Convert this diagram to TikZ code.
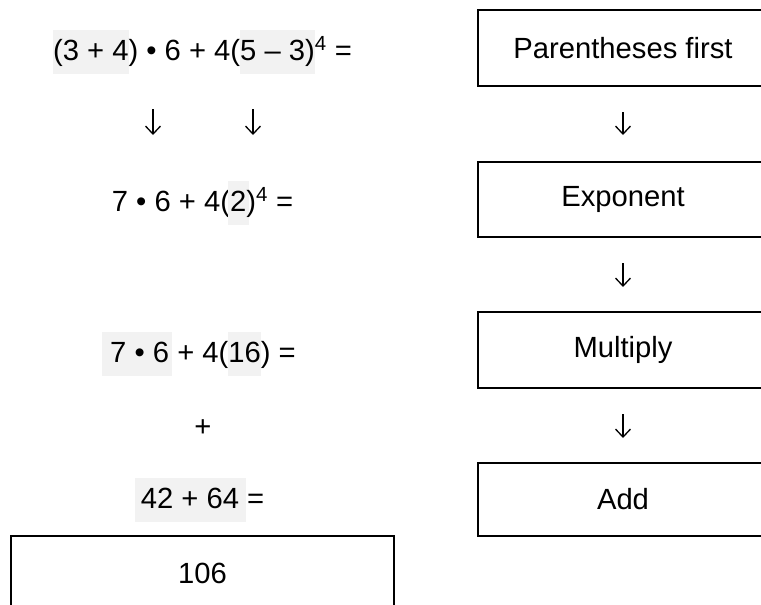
\documentclass[tikz,border=0pt]{standalone}
\usepackage{fontspec}
\usetikzlibrary{arrows.meta}
\setmainfont{Liberation Sans}
\definecolor{hlgray}{HTML}{F2F2F2}
\newcommand{\fs}{\fontsize{29.2pt}{35pt}\selectfont}
% highlight: #1 left pad, #2 right pad, #3 text (text position unchanged)
\newcommand{\hlbox}[3]{\hspace{-#1}{\setlength{\fboxsep}{0pt}\colorbox{hlgray}{\rule[-14pt]{0pt}{44pt}\hspace{#1}#3\hspace{#2}}}\hspace{-#2}}
\begin{document}
\begin{tikzpicture}[x=1pt,y=-1pt,
  txt/.style={inner sep=0pt, font=\fs, anchor=base},
  arr/.style={inner sep=0pt, font=\fs, anchor=center},
  downarrow/.style={line width=1.3pt, -{Straight Barb[length=8pt,width=15pt,line width=1.3pt]}},
  stepbox/.style={draw, line width=2pt, inner sep=0pt, font=\fs, minimum width=290pt, anchor=center}]
\useasboundingbox (0,0) rectangle (761,605);
\clip (0,0) rectangle (761,605);
\fill[white] (0,0) rectangle (761,605);
% left column
\node[txt] (l1) at (202.5,60) {\hlbox{0pt}{0pt}{(3 + 4}) • 6 + 4(\hlbox{0pt}{0pt}{5 – 3)}\textsuperscript{4} =};
\coordinate (a1s) at (153,109); \coordinate (a1e) at (153,135);
\coordinate (a2s) at (253,109); \coordinate (a2e) at (253,135);
\draw[downarrow] (a1s) -- (a1e);
\draw[downarrow] (a2s) -- (a2e);
\node[txt] (l2) at (202.5,211) {7 • 6 + 4(\hlbox{2pt}{3pt}{2})\textsuperscript{4} =};
\node[txt] (l3) at (203,362) {\hlbox{8pt}{3pt}{7 • 6} + 4(\hlbox{0pt}{0pt}{16}) =};
\node[arr] (plus) at (203,428) {+};
\node[txt] (l4) at (202.5,508) {\hlbox{6pt}{7pt}{42 + 64} =};
\node[stepbox, minimum width=383pt, minimum height=74pt] (res) at (202.5,573) {106};
% right column
\node[stepbox, minimum height=76pt] (s1) at (623,48) {Parentheses first};
\node[stepbox, minimum height=75pt] (s2) at (623,199.5) {Exponent};
\node[stepbox, minimum height=76pt] (s3) at (623,350) {Multiply};
\node[stepbox, minimum height=73pt] (s4) at (623,499.5) {Add};
\coordinate (r1s) at (623,112); \coordinate (r1e) at (623,135);
\coordinate (r2s) at (623,263); \coordinate (r2e) at (623,287);
\coordinate (r3s) at (623,414); \coordinate (r3e) at (623,438);
\draw[downarrow] (r1s) -- (r1e);
\draw[downarrow] (r2s) -- (r2e);
\draw[downarrow] (r3s) -- (r3e);
\end{tikzpicture}
\end{document}
